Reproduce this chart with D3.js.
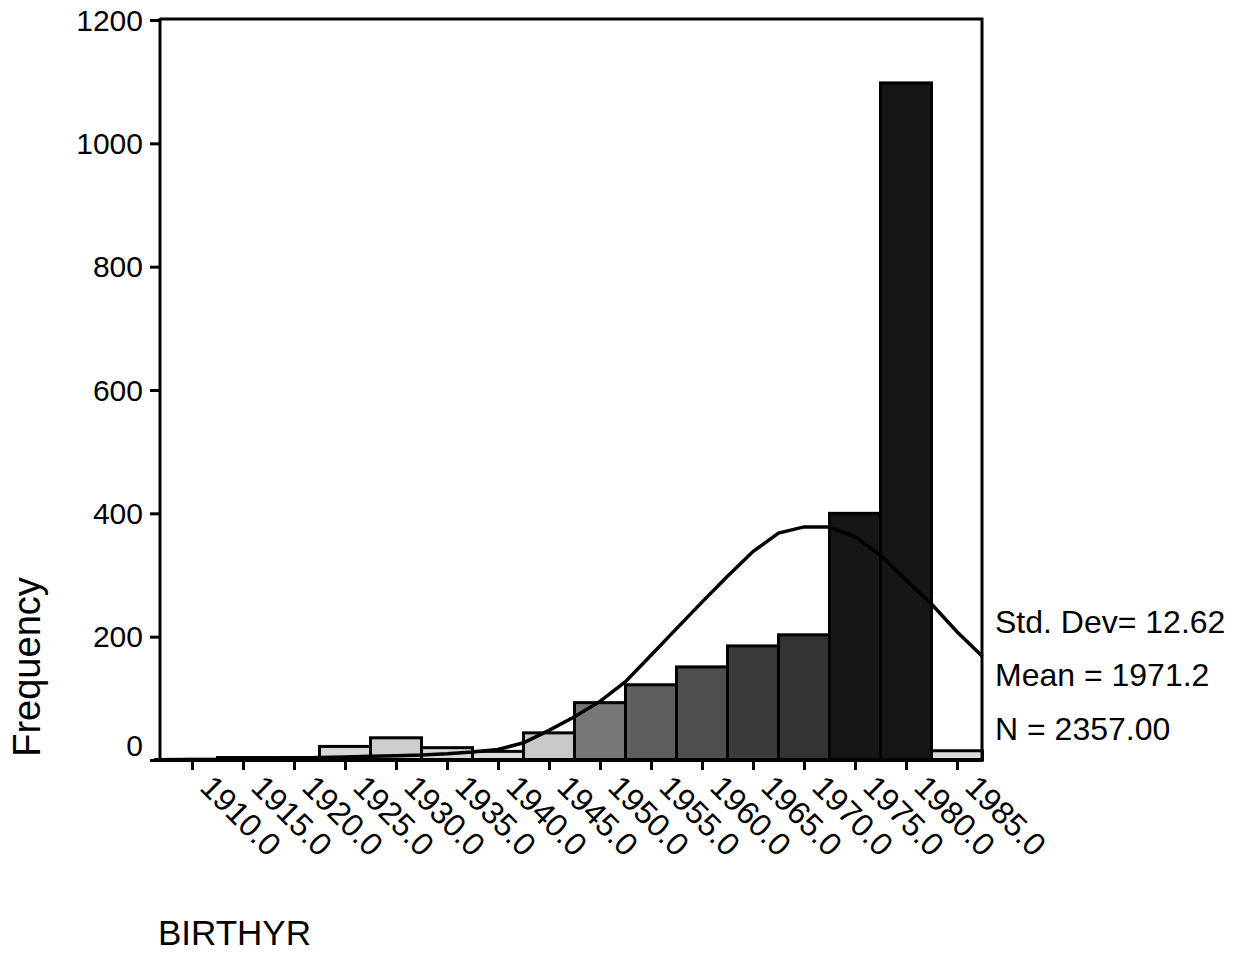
<!DOCTYPE html>
<html>
<head>
<meta charset="utf-8">
<script src="https://cdn.jsdelivr.net/npm/d3@7"></script>
<style>
    body { margin: 0; background: #fff; }
    svg { display: block; font-family: "Liberation Sans", Arial, sans-serif; }
</style>
</head>
<body>
<svg id="chart"></svg>
<script>
// histogram bins (midpoints) and counts
const bins = [1910, 1915, 1920, 1925, 1930, 1935, 1940, 1945, 1950, 1955, 1960, 1965, 1970, 1975, 1980, 1985];
const freq = [1, 4, 4, 22, 36, 20, 14, 44, 93, 122, 151, 185, 203, 400, 1098, 15];

// normal curve
const curveYears = [1907.5, 1910, 1912.5, 1915, 1917.5, 1920, 1922.5, 1925, 1927.5, 1930, 1932.5, 1935, 1937.5,
    1940, 1942.5, 1945, 1947.5, 1950, 1952.5, 1955, 1957.5, 1960, 1962.5, 1965, 1967.5, 1970, 1972.5,
    1975, 1977.5, 1980, 1982.5, 1985, 1987.5];
const curveVals = [0.5, 1, 1, 1.5, 2, 3, 4, 5, 6, 7, 8, 10, 13,
    17, 28, 48, 70, 95, 127, 170, 213, 256, 298, 338, 368, 378, 378,
    362, 332, 292, 253, 208, 168];

const yTicks = [0, 200, 400, 600, 800, 1000, 1200];
const statLines = ["Std. Dev= 12.62", "Mean = 1971.2", "N = 2357.00"];

const display = {
    width: 1249,
    height: 954,
    left: 160,
    right: 982,
    top: 20,
    bottom: 760
};

const svg = d3.select("#chart")
    .attr("width", display.width)
    .attr("height", display.height);

const x = d3.scaleLinear()
    .domain([1910, 1985])
    .range([192, 957]);

const y = d3.scaleLinear()
    .domain([0, 1200])
    .range([display.bottom, display.top]);

// scanned grey: small bars look pale, tall ones almost black
const shade = d3.scaleLinear()
    .domain([0, 50, 100, 200, 400])
    .range(["#e6e6e6", "#c4c4c4", "#6a6a6a", "#333", "#161616"])
    .clamp(true);

// bars
svg.append("g")
    .selectAll("rect")
    .data(bins.map((b, i) => ({ bin: b, value: freq[i] })))
    .join("rect")
        .attr("x", d => x(d.bin - 2.5))
        .attr("y", d => y(d.value))
        .attr("width", d => x(d.bin + 2.5) - x(d.bin - 2.5))
        .attr("height", d => y(0) - y(d.value))
        .attr("fill", d => shade(d.value))
        .attr("stroke", "#000")
        .attr("stroke-width", 3);

// normal curve
const line = d3.line()
    .x((d, i) => x(curveYears[i]))
    .y(d => y(d));

svg.append("path")
    .datum(curveVals)
    .attr("d", line)
    .attr("fill", "none")
    .attr("stroke", "#000")
    .attr("stroke-width", 3.5);

// frame: top and right
svg.append("path")
    .attr("d", `M${display.left},${display.top - 1}H${display.right}V${display.bottom}`)
    .attr("fill", "none")
    .attr("stroke", "#000")
    .attr("stroke-width", 3);

// y axis
svg.append("g")
    .attr("transform", `translate(${display.left}, 0)`)
    .call(d3.axisLeft(y).tickValues(yTicks).tickSize(10).tickPadding(7).tickFormat(d3.format("d")))
    .call(g => g.select(".domain").remove())
    .call(g => g.selectAll(".tick line").attr("stroke", "#000").attr("stroke-width", 3))
    .call(g => g.selectAll(".tick text")
        .attr("font-size", 30)
        .attr("font-family", "Liberation Sans, Arial, sans-serif")
        .attr("fill", "#000")
        .attr("dy", d => d === 0 ? "-0.15em" : "0.34em"));

svg.append("line")
    .attr("x1", display.left).attr("x2", display.left)
    .attr("y1", display.top - 2).attr("y2", display.bottom + 2)
    .attr("stroke", "#000")
    .attr("stroke-width", 3);

// x axis
svg.append("g")
    .attr("transform", `translate(0, ${display.bottom})`)
    .call(d3.axisBottom(x).tickValues(bins).tickSize(10).tickFormat(d3.format(".1f")))
    .call(g => g.select(".domain").remove())
    .call(g => g.selectAll(".tick line").attr("stroke", "#000").attr("stroke-width", 3))
    .call(g => g.selectAll(".tick text")
        .attr("font-size", 32)
        .attr("font-family", "Liberation Sans, Arial, sans-serif")
        .attr("fill", "#000")
        .attr("text-anchor", "start")
        .attr("dy", null)
        .attr("y", 0)
        .attr("transform", "translate(6, 29) rotate(45)"));

svg.append("line")
    .attr("x1", display.left - 6).attr("x2", display.right + 1)
    .attr("y1", display.bottom).attr("y2", display.bottom)
    .attr("stroke", "#000")
    .attr("stroke-width", 4);

// axis titles
svg.append("text")
    .attr("x", 158)
    .attr("y", 945)
    .attr("font-size", 35)
    .attr("fill", "#000")
    .text("BIRTHYR");

svg.append("text")
    .attr("transform", "translate(40, 667) rotate(-90)")
    .attr("text-anchor", "middle")
    .attr("font-size", 38)
    .attr("fill", "#000")
    .text("Frequency");

// summary stats
svg.append("g")
    .selectAll("text")
    .data(statLines)
    .join("text")
        .attr("x", 995)
        .attr("y", (d, i) => [633, 686, 740][i])
        .attr("font-size", 32)
        .attr("fill", "#000")
        .text(d => d);
</script>
</body>
</html>
